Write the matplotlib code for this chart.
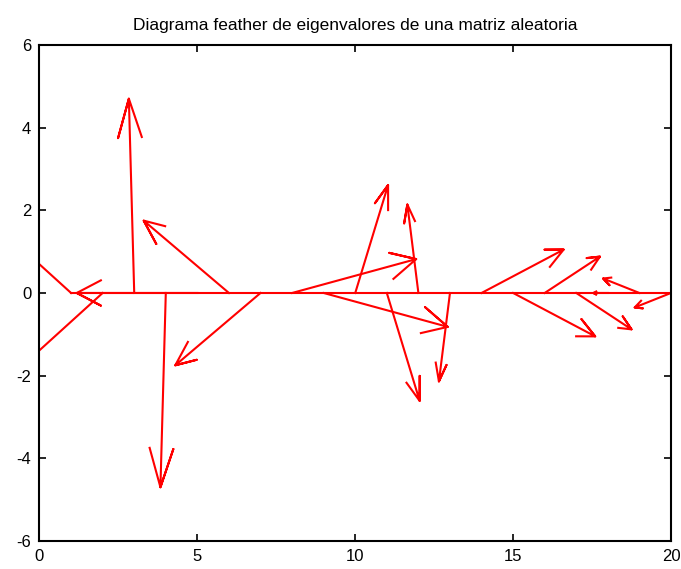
import numpy as np
import matplotlib.pyplot as plt

# eigenvalores (parte real e imaginaria), en el orden en que se dibujan
eig_real = [-4.4, -4.4, -0.17, -0.17, -3.82, -2.7, -2.7, 3.93, 3.93, 1.04,
            1.04, -0.35, -0.35, 2.6, 2.6, 1.75, 1.75, -0.46, -1.15, -1.15]
eig_imag = [3.05, -3.05, 4.7, -4.7, 0.0, 1.75, -1.75, 0.82, -0.82, 2.61,
            -2.61, 2.14, -2.14, 1.05, -1.05, 0.88, -0.88, 0.0, 0.35, -0.35]

titulo = 'Diagrama feather de eigenvalores de una matriz aleatoria'
xticks = [0, 5, 10, 15, 20]
yticks = [-6, -4, -2, 0, 2, 4, 6]

z = np.array(eig_real) + 1j * np.array(eig_imag)
n = len(z)

# flecha tipo feather: cuerpo y cabeza, rotada/escalada por cada eigenvalor
forma = np.array([0, 1, 0.8, 1, 0.8]) + 1j * np.array([0, 0, 0.08, 0, -0.08])
puntos = np.outer(forma, z)
xx = puntos.real + np.arange(1, n + 1)
yy = puntos.imag

plt.rcParams['font.family'] = ['Liberation Sans', 'DejaVu Sans']
plt.rcParams['axes.unicode_minus'] = False
fig = plt.figure(figsize=(6.81, 5.69), dpi=100)
ax = fig.add_axes([0.058, 0.0492, 0.9273, 0.8718])

for k in range(n):
    ax.plot(xx[:, k], yy[:, k], color='red', lw=1.5)
ax.plot([1, n], [0, 0], color='red', lw=1.5)

ax.set_xlim(0, 20)
ax.set_ylim(-6, 6)
ax.set_xticks(xticks)
ax.set_yticks(yticks)
ax.tick_params(direction='in', top=True, right=True, length=5, width=1.2,
               labelsize=12, pad=6)
for s in ax.spines.values():
    s.set_linewidth(1.5)

ax.set_title(titulo, fontsize=12.5, pad=11)

fig.savefig('out.png', dpi=100)
